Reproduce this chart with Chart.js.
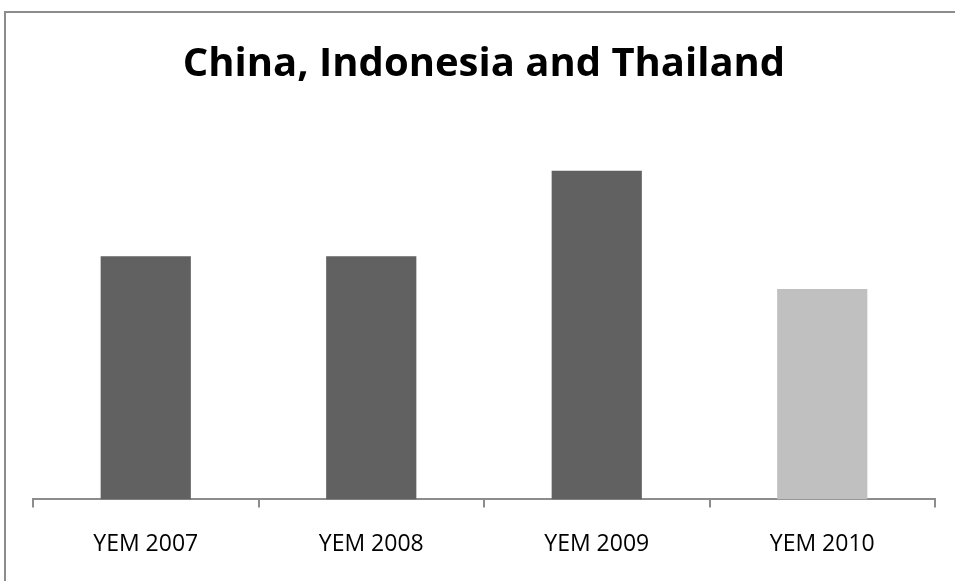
<!DOCTYPE html>
<html>
<head>
<meta charset="utf-8">
<title>China, Indonesia and Thailand</title>
<script src="https://cdn.jsdelivr.net/npm/chart.js@4"></script>
<style>
  html, body { margin: 0; padding: 0; background: #fff; }
  #wrap { width: 955px; height: 581px; position: relative; }
</style>
</head>
<body>
<div id="wrap"><canvas id="yemChart" width="955" height="581"></canvas></div>
<script>
const categories = ['YEM 2007', 'YEM 2008', 'YEM 2009', 'YEM 2010'];
const values = [7.4, 7.4, 10, 6.4];
const barColors = ['#616161', '#616161', '#616161', '#c0c0c0'];

// outer frame like the spreadsheet chart border
const frame = {
  id: 'frame',
  beforeDraw(chart) {
    const c = chart.ctx;
    c.save();
    c.fillStyle = '#fff';
    c.fillRect(0, 0, chart.width, chart.height);
    c.strokeStyle = '#8c8c8c';
    c.lineWidth = 2;
    c.strokeRect(5, 12, chart.width + 20, chart.height + 20);
    c.restore();
  }
};

const ctx = document.getElementById('yemChart').getContext('2d');

const yemChart = new Chart(ctx, {
  type: 'bar',
  data: {
    labels: categories,
    datasets: [{
      label: 'China, Indonesia and Thailand',
      data: values,
      backgroundColor: barColors,
      borderWidth: 0,
      categoryPercentage: 1,
      barPercentage: 0.4
    }]
  },
  options: {
    responsive: false,
    animation: false,
    layout: {
      padding: { left: 33, right: 20, top: 0, bottom: 0 }
    },
    plugins: {
      legend: { display: false },
      tooltip: { enabled: false },
      title: {
        display: true,
        text: 'China, Indonesia and Thailand',
        color: '#000',
        font: { family: 'Open Sans', size: 40, weight: 'bold' },
        padding: { top: 41, bottom: 16 }
      }
    },
    scales: {
      x: {
        grid: {
          drawOnChartArea: false,
          drawTicks: true,
          tickLength: 8,
          color: '#8c8c8c',
          lineWidth: 2
        },
        border: { color: '#8c8c8c', width: 2 },
        ticks: {
          color: '#000',
          padding: 23,
          font: { family: 'Open Sans', size: 23 }
        }
      },
      y: {
        display: false,
        beginAtZero: true,
        min: 0,
        max: 12
      }
    }
  },
  plugins: [frame]
});
</script>
</body>
</html>
